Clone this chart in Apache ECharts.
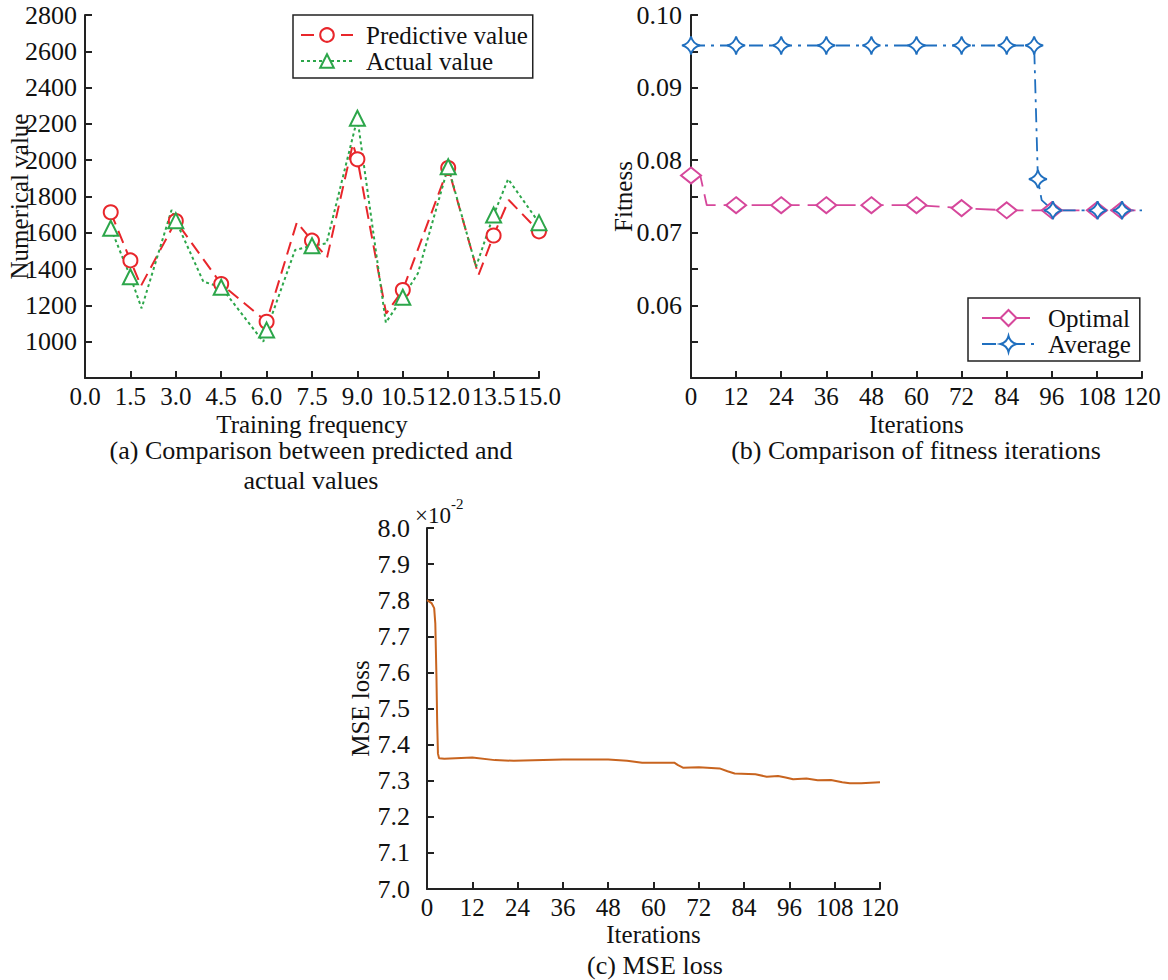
<!DOCTYPE html>
<html><head><meta charset="utf-8">
<script src="https://cdn.jsdelivr.net/npm/echarts@6/dist/echarts.min.js"></script>
<style>html,body{margin:0;padding:0;background:#fff}#c{width:1168px;height:980px}</style>
</head><body><div id="c"></div>
<script>
// ---- (a) Comparison between predicted and actual values ----
const predX = [0.85, 1.5, 1.85, 3.0, 4.5, 6.0, 7.0, 7.5, 8.0, 8.85, 9.0, 9.95, 10.5, 12.0, 13.0, 13.5, 14.0, 15.0];
const predY = [1713, 1448, 1308, 1665, 1318, 1110, 1658, 1557, 1465, 2090, 2005, 1155, 1285, 1957, 1367, 1585, 1781, 1608];
const predMark = [1, 1, 0, 1, 1, 1, 0, 1, 0, 0, 1, 0, 1, 1, 0, 1, 0, 1];
const actX = [0.85, 1.5, 1.87, 2.86, 3.0, 3.91, 4.5, 5.89, 6.0, 6.94, 7.5, 7.98, 9.0, 9.94, 10.5, 11.0, 12.0, 12.92, 13.5, 13.98, 15.0];
const actY = [1625, 1358, 1184, 1726, 1667, 1331, 1300, 1000, 1064, 1505, 1529, 1542, 2231, 1105, 1245, 1377, 1964, 1413, 1698, 1896, 1656];
const actMark = [1, 1, 0, 0, 1, 0, 1, 0, 1, 0, 1, 0, 1, 0, 1, 0, 1, 0, 1, 0, 1];
// ---- (b) Comparison of fitness iterations ----
const optX = [0, 2.5, 4.2, 12, 24, 36, 48, 60, 72, 84, 96, 108, 114.5, 120];
const optY = [0.0779, 0.0778, 0.0738, 0.0738, 0.0738, 0.0738, 0.0738, 0.0738, 0.0734, 0.0731, 0.0731, 0.0731, 0.0731, 0.0731];
const optMark = [1, 0, 0, 1, 1, 1, 1, 1, 1, 1, 1, 1, 1, 0];
const avgX = [0, 12, 24, 36, 48, 60, 72, 84, 91.3, 92.3, 93.3, 96.3, 108.2, 114.7, 120];
const avgY = [0.0958, 0.0958, 0.0958, 0.0958, 0.0958, 0.0958, 0.0958, 0.0958, 0.0958, 0.0774, 0.0745, 0.0731, 0.0731, 0.0731, 0.0731];
const avgMark = [1, 1, 1, 1, 1, 1, 1, 1, 1, 1, 0, 1, 1, 1, 0];
// ---- (c) MSE loss (x10^-2) ----
const lossX = [0, 1.2, 1.9, 2.2, 2.5, 2.7, 2.9, 3.2, 4.6, 12, 18, 23, 36, 48, 53, 57, 62, 65.5, 66.5, 67.8, 72, 77.5, 79.6, 81.5, 87, 90, 93, 95, 97, 100.5, 103.5, 107, 110, 112, 115, 120];
const lossY = [7.800, 7.792, 7.778, 7.736, 7.590, 7.460, 7.375, 7.362, 7.361, 7.364, 7.357, 7.355, 7.359, 7.359, 7.355, 7.350, 7.350, 7.350, 7.343, 7.336, 7.337, 7.334, 7.326, 7.320, 7.318, 7.311, 7.313, 7.309, 7.304, 7.306, 7.301, 7.302, 7.296, 7.293, 7.293, 7.296];

const FONT = 'Liberation Serif';
const INK = '#111';
const AX = '#222';

function pts(xs, ys, marks) {
  return xs.map((x, i) => marks[i] ? [x, ys[i]] : { value: [x, ys[i]], symbol: 'none' });
}
function axis(extra, labelMargin, labelSize) {
  return Object.assign({
    type: 'value',
    axisLine: { show: true, onZero: false, lineStyle: { color: AX, width: 2 } },
    axisTick: { show: true, inside: true, length: 7, lineStyle: { color: AX, width: 2 } },
    splitLine: { show: false },
    axisLabel: { color: INK, fontFamily: FONT, fontSize: labelSize, lineHeight: 20, margin: labelMargin },
    nameTextStyle: { color: INK, fontFamily: FONT, fontSize: 25, lineHeight: 20 },
    nameLocation: 'middle',
    nameMoveOverlap: false
  }, extra);
}

const starPath = 'path://M10,0 Q12,8 20,10 Q12,12 10,20 Q8,12 0,10 Q8,8 10,0 Z';

const xa = axis({ gridIndex: 0, min: 0, max: 15, interval: 1.5, name: 'Training frequency', nameGap: 36 }, 8, 25);
xa.axisLabel.formatter = v => v.toFixed(1);
const ya = axis({ gridIndex: 0, min: 800, max: 2800, interval: 200, name: 'Numerical value', nameGap: 56 }, 8, 26);
ya.axisLabel.formatter = v => (v <= 800 ? '' : String(v));
const xb = axis({ gridIndex: 1, min: 0, max: 120, interval: 12, name: 'Iterations', nameGap: 36 }, 8, 25);
const yb = axis({ gridIndex: 1, min: 0.05, max: 0.10, interval: 0.005, name: 'Fitness', nameGap: 58 }, 9, 26);
yb.axisLabel.formatter = v => { const k = Math.round(v * 1000); return (k % 10 === 0 && k > 50) ? (k / 1000).toFixed(2) : ''; };
const xc = axis({ gridIndex: 2, min: 0, max: 120, interval: 12, name: 'Iterations', nameGap: 35 }, 8, 25);
const yc = axis({ gridIndex: 2, min: 7.0, max: 8.0, interval: 0.1, name: 'MSE loss', nameGap: 57 }, 17, 26);
yc.axisLabel.formatter = v => v.toFixed(1);

const RED = '#e8262b', GREEN = '#2ca64a', PINK = '#d6479b', BLUE = '#1f6fbf', ORANGE = '#c8641f';

const legendText = { color: INK, fontFamily: FONT, fontSize: 25, lineHeight: 26, padding: [0, 0, 0, 8] };

const capStyle = { fontFamily: FONT, fontSize: 26, lineHeight: 20, fill: INK, textAlign: 'center', textVerticalAlign: 'middle', align: 'center', verticalAlign: 'middle' };

const option = {
  backgroundColor: '#fff',
  animation: false,
  grid: [
    { left: 85, top: 15, width: 454, height: 363, outerBoundsMode: 'none', containLabel: false },
    { left: 691, top: 15, width: 451, height: 363, outerBoundsMode: 'none', containLabel: false },
    { left: 427, top: 528, width: 453, height: 361, outerBoundsMode: 'none', containLabel: false }
  ],
  xAxis: [xa, xb, xc],
  yAxis: [ya, yb, yc],
  legend: [
    { data: ['Predictive value', 'Actual value'], orient: 'vertical', left: 293, top: 15,
      padding: [7, 5, 4, 7], itemGap: 0, itemWidth: 52, itemHeight: 17,
      borderColor: AX, borderWidth: 1.5, textStyle: legendText, backgroundColor: '#fff' },
    { data: ['Optimal', 'Average'], orient: 'vertical', left: 968, top: 298,
      padding: [7, 9, 4, 13], itemGap: 0, itemWidth: 53, itemHeight: 20,
      borderColor: AX, borderWidth: 1.5, textStyle: legendText, backgroundColor: '#fff' }
  ],
  series: [
    { name: 'Predictive value', type: 'line', xAxisIndex: 0, yAxisIndex: 0,
      data: pts(predX, predY, predMark), symbol: 'emptyCircle', symbolSize: 14,
      color: RED, lineStyle: { color: RED, width: 2, type: [13, 7] },
      itemStyle: { color: RED, borderWidth: 2 } },
    { name: 'Actual value', type: 'line', xAxisIndex: 0, yAxisIndex: 0,
      data: pts(actX, actY, actMark), symbol: 'emptyTriangle', symbolSize: 15,
      color: GREEN, lineStyle: { color: GREEN, width: 2, type: [3, 3] },
      itemStyle: { color: GREEN, borderWidth: 2 } },
    { name: 'Optimal', type: 'line', xAxisIndex: 1, yAxisIndex: 1,
      data: pts(optX, optY, optMark), symbol: 'emptyDiamond', symbolSize: [20, 16],
      color: PINK, lineStyle: { color: PINK, width: 1.8, type: [20, 8] },
      itemStyle: { color: PINK, borderWidth: 1.8 } },
    { name: 'Average', type: 'line', xAxisIndex: 1, yAxisIndex: 1,
      data: pts(avgX, avgY, avgMark), symbol: starPath, symbolSize: 18,
      color: BLUE, lineStyle: { color: BLUE, width: 1.8, type: [14, 6, 3, 6] },
      itemStyle: { color: '#fff', borderColor: BLUE, borderWidth: 1.8 } },
    { name: 'MSE loss', type: 'line', xAxisIndex: 2, yAxisIndex: 2,
      data: lossX.map((x, i) => [x, lossY[i]]), symbol: 'none', smooth: false,
      color: ORANGE, lineStyle: { color: ORANGE, width: 2 } }
  ],
  graphic: [
    { type: 'text', x: 311, y: 450, style: Object.assign({ text: '(a) Comparison between predicted and' }, capStyle) },
    { type: 'text', x: 311, y: 480, style: Object.assign({ text: 'actual values' }, capStyle) },
    { type: 'text', x: 916, y: 450, style: Object.assign({ text: '(b) Comparison of fitness iterations' }, capStyle) },
    { type: 'text', x: 655, y: 965, style: Object.assign({ text: '(c) MSE loss' }, capStyle) },
    { type: 'text', x: 415, y: 515, style: { text: '×10', fontFamily: FONT, fontSize: 23, fill: INK, textAlign: 'left', textVerticalAlign: 'middle', align: 'left', verticalAlign: 'middle' } },
    { type: 'text', x: 451, y: 504, style: { text: '-2', fontFamily: FONT, fontSize: 15, fill: INK, textAlign: 'left', textVerticalAlign: 'middle', align: 'left', verticalAlign: 'middle' } }
  ]
};
const chart = echarts.init(document.getElementById('c'), null, { renderer: 'svg' });
chart.setOption(option);
</script>
</body></html>
